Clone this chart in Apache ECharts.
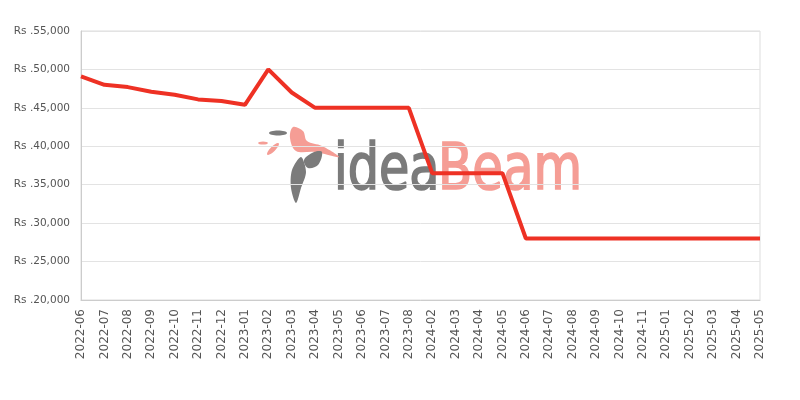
<!DOCTYPE html>
<html><head><meta charset="utf-8">
<script src="https://cdn.jsdelivr.net/npm/echarts@6/dist/echarts.min.js"></script>
<style>html,body{margin:0;padding:0;background:#fff}#c{width:800px;height:400px}</style>
</head><body><div id="c"></div>
<script>
const categories = ["2022-06","2022-07","2022-08","2022-09","2022-10","2022-11","2022-12","2023-01","2023-02","2023-03","2023-04","2023-05","2023-06","2023-07","2023-08","2024-02","2024-03","2024-04","2024-05","2024-06","2024-07","2024-08","2024-09","2024-10","2024-11","2025-01","2025-02","2025-03","2025-04","2025-05"];
const prices = [49100,48000,47700,47100,46700,46100,45900,45400,50000,47000,45000,45000,45000,45000,45000,36500,36500,36500,36500,28000,28000,28000,28000,28000,28000,28000,28000,28000,28000,28000];
const yMin = 20000, yMax = 55000, yStep = 5000;

const gray = '#7b7b7b', pink = '#f59d95';
const chart = echarts.init(document.getElementById('c'), null, {renderer:'canvas'});
chart.setOption({
  animation:false,
  grid:{left:81,right:40,top:31,bottom:100,show:true,borderColor:'#dddddd',borderWidth:1},
  graphic:[
    {type:'text',x:334,y:141,scaleX:0.83,scaleY:0.96,z:0,style:{x:0,y:0,text:'idea',font:'66px "DejaVu Sans Condensed"',fill:gray,stroke:gray,lineWidth:1.8}},
    {type:'text',x:438,y:141,scaleX:0.84,scaleY:0.96,z:0,style:{x:0,y:0,text:'Beam',font:'66px "DejaVu Sans Condensed"',fill:pink,stroke:pink,lineWidth:1.8}},
    {type:'polygon',z:0,shape:{smooth:0.35,points:[[293,127],[303,131],[307,141],[322,146],[339,157],[315,152],[296,151],[290,138]]},style:{fill:pink}},
    {type:'polygon',z:0,shape:{smooth:0.35,points:[[304,160],[314,152],[322,152],[318,165],[308,168]]},style:{fill:gray}},
    {type:'polygon',z:0,shape:{smooth:0.3,points:[[301,157],[306,172],[301,188],[296,203],[291,188],[292,170]]},style:{fill:gray}},
    {type:'ellipse',z:0,shape:{cx:278,cy:133,rx:9,ry:2.5},style:{fill:gray}},
    {type:'ellipse',z:0,shape:{cx:263,cy:143,rx:5,ry:1.6},style:{fill:pink}},
    {type:'ellipse',z:0,x:273,y:149,rotation:Math.PI/4,shape:{cx:0,cy:0,rx:8,ry:2.5},style:{fill:pink}}
  ],
  xAxis:{type:'category',data:categories,boundaryGap:false,
    axisLine:{lineStyle:{color:'#cccccc'}},axisTick:{show:false},
    axisLabel:{rotate:90,color:'#555',fontSize:12,fontFamily:'DejaVu Sans',interval:0,margin:9},
    splitLine:{show:false}},
  yAxis:{type:'value',min:yMin,max:yMax,interval:yStep,
    axisLine:{show:true,lineStyle:{color:'#cccccc'}},axisTick:{show:false},
    axisLabel:{color:'#555',fontSize:10.5,fontFamily:'DejaVu Sans',margin:11,
      formatter:v=>'Rs .'+v.toLocaleString('en-US')},
    splitLine:{lineStyle:{color:'#e3e3e3'}}},
  series:[{type:'line',data:prices,symbol:'none',z:5,
    lineStyle:{color:'#ee3124',width:4}}]
});
</script></body></html>
